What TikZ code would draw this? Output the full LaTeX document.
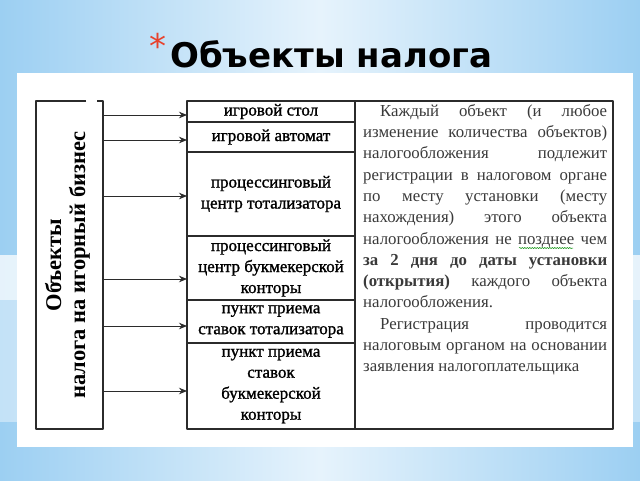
\documentclass[tikz,border=0pt]{standalone}
\usepackage{fontspec}
\setmainfont{Liberation Serif}
\newfontfamily\titlefont{DejaVu Sans}
\newfontfamily\rowfont[FakeBold=1.2]{Liberation Serif}
\usetikzlibrary{positioning,calc,arrows.meta,decorations.pathmorphing}

\definecolor{skyedge}{HTML}{9CCFF2}
\definecolor{skymid}{HTML}{E6F3FC}
\definecolor{starred}{HTML}{E8412C}
\definecolor{inkgrey}{HTML}{2B2B2B}
\definecolor{notegrey}{HTML}{3A3A3A}

\tikzset{
  boxline/.style={draw=inkgrey, line width=1.1pt},
  rowbox/.style={boxline, minimum width=168pt, inner sep=0pt, outer sep=0pt,
    align=center, font=\rowfont\fontsize{17}{21}\selectfont},
  arr/.style={-{Stealth[length=8pt, width=6.5pt]}, inkgrey, line width=0.9pt},
}

\begin{document}
\begin{tikzpicture}[x=1pt, y=-1pt, line join=round]

  \useasboundingbox (0,0) rectangle (640,480);

  % slide background
  \shade [left color=skyedge, right color=skyedge, middle color=skymid]
    (0,0) rectangle (640,480);
  \fill [white, opacity=0.75] (0,255) rectangle (640,300);
  \fill [white, opacity=0.4] (0,300) rectangle (640,422);
  \fill [white] (17,73) rectangle (633,447);

  % title
  \node [anchor=base west, inner sep=0pt,
    font=\titlefont\bfseries\fontsize{34}{38}\selectfont]
    (title) at (170,67) {Объекты налога};
  \node [anchor=north east, inner sep=0pt, text=starred,
    font=\titlefont\fontsize{34}{34}\selectfont]
    (star) at (167,33) {*};

  % left box
  \node [minimum width=67pt, minimum height=328pt, inner sep=0pt, outer sep=0pt]
    (obj) at (69.5,265) {};
  \draw [boxline] ([xshift=50pt]obj.north west) -- (obj.north west)
    -- (obj.south west) -- (obj.south east) -- (obj.north east) -- ++(-6,0);
  \node [rotate=90, align=center, font=\bfseries\fontsize{22.5}{24}\selectfont]
    (objtext) at ([xshift=-2pt]obj.center)
    {Объекты\\налога на игорный бизнес};

  % objects column
  \node [rowbox, minimum height=21pt] (r1) at (271,111.5) {игровой стол};
  \node [rowbox, minimum height=30pt, below=0pt of r1] (r2) {игровой автомат};
  \node [rowbox, minimum height=84pt, below=0pt of r2] (r3)
    {процессинговый\\центр тотализатора};
  \node [rowbox, minimum height=64pt, below=0pt of r3] (r4)
    {процессинговый\\центр букмекерской\\конторы};
  \node [rowbox, minimum height=43pt, below=0pt of r4] (r5)
    {пункт приема\\ставок тотализатора};
  \node [rowbox, minimum height=86pt, below=0pt of r5] (r6)
    {пункт приема\\ставок\\букмекерской\\конторы};

  % arrows
  \foreach \r/\d in {r1/3.5, r2/3, r3/2, r4/11, r5/4.5, r6/5}
    \draw [arr] ([yshift=-\d pt]\r.west -| obj.east) -- ([yshift=-\d pt]\r.west);

  % registration note
  \node [boxline, minimum width=258pt, minimum height=328pt, inner sep=0pt,
    outer sep=0pt, anchor=north west] (info) at (r1.north east) {};
  \node [anchor=north west, inner sep=0pt, text=notegrey] (infotext)
    at ([xshift=8pt, yshift=-3pt]info.north west)
    {\parbox[t]{244pt}{\fontsize{16.8}{21.3}\selectfont
      \hyphenpenalty=10000 \sloppy \parindent=17pt
      \indent Каждый объект (и любое\linebreak
      изменение количества объектов)\linebreak
      налогообложения подлежит\linebreak
      регистрации в налоговом органе\linebreak
      по месту установки (месту\linebreak
      нахождения) этого объекта\linebreak
      налогообложения не позднее чем\linebreak
      \textbf{за 2 дня до даты установки}\linebreak
      \textbf{(открытия)} каждого объекта\linebreak
      налогообложения.\par
      \indent Регистрация проводится\linebreak
      налоговым органом на основании\linebreak
      заявления налогоплательщика}};
  \draw [green!55!black, line width=0.5pt, decorate,
    decoration={snake, amplitude=0.6pt, segment length=2.5pt}]
    (519,248) -- (573,248);

\end{tikzpicture}
\end{document}
